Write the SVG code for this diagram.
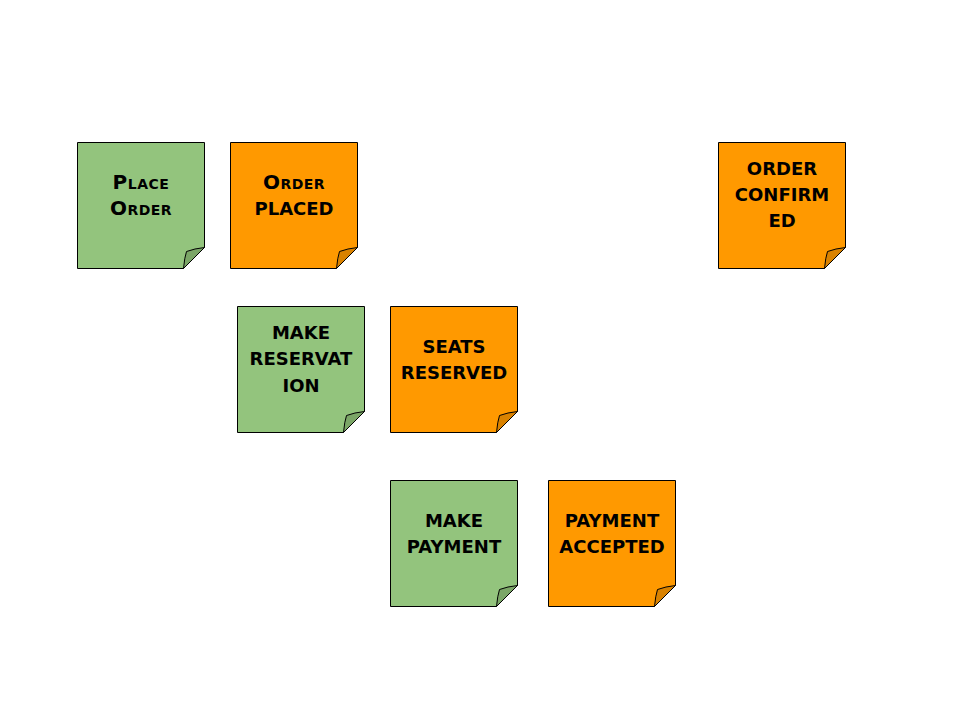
<svg xmlns="http://www.w3.org/2000/svg" width="960" height="720" viewBox="0 0 960 720">
<style>
.body,.flap{stroke:#000;stroke-width:1}
.g .body{fill:#93C47D}
.g .flap{fill:#7BA667}
.o .body{fill:#FF9900}
.o .flap{fill:#D98200}
text{font-family:"DejaVu Sans","Liberation Sans",sans-serif;font-weight:bold;font-size:18px;font-variant:small-caps;text-anchor:middle;fill:#000}
text.sc{font-size:20px;letter-spacing:0.5px}
</style>
<rect width="960" height="720" fill="#fff"/>
<g id="connectors"></g>
<g id="place-order" class="g" transform="translate(77.5,142.5)">
<path class="body" d="M0,0 H127 V105 L106,126 H0 Z"/>
<path class="flap" d="M127,105 L106,126 Q107,115 109,109 Q117,106 127,105 Z"/>
<text class="sc" x="63.5" y="46">Place</text>
<text class="sc" x="63.5" y="72.5">Order</text>
</g>
<g id="order-placed" class="o" transform="translate(230.5,142.5)">
<path class="body" d="M0,0 H127 V105 L106,126 H0 Z"/>
<path class="flap" d="M127,105 L106,126 Q107,115 109,109 Q117,106 127,105 Z"/>
<text class="sc" x="63.5" y="46">Order</text>
<text x="63.5" y="72.5">PLACED</text>
</g>
<g id="order-confirmed" class="o" transform="translate(718.5,142.5)">
<path class="body" d="M0,0 H127 V105 L106,126 H0 Z"/>
<path class="flap" d="M127,105 L106,126 Q107,115 109,109 Q117,106 127,105 Z"/>
<text x="63.5" y="32.5">ORDER</text>
<text x="63.5" y="58.5">CONFIRM</text>
<text x="63.5" y="84.5">ED</text>
</g>
<g id="make-reservation" class="g" transform="translate(237.5,306.5)">
<path class="body" d="M0,0 H127 V105 L106,126 H0 Z"/>
<path class="flap" d="M127,105 L106,126 Q107,115 109,109 Q117,106 127,105 Z"/>
<text x="63.5" y="32.5">MAKE</text>
<text x="63.5" y="58.5">RESERVAT</text>
<text x="63.5" y="85">ION</text>
</g>
<g id="seats-reserved" class="o" transform="translate(390.5,306.5)">
<path class="body" d="M0,0 H127 V105 L106,126 H0 Z"/>
<path class="flap" d="M127,105 L106,126 Q107,115 109,109 Q117,106 127,105 Z"/>
<text x="63.5" y="46">SEATS</text>
<text x="63.5" y="72.5">RESERVED</text>
</g>
<g id="make-payment" class="g" transform="translate(390.5,480.5)">
<path class="body" d="M0,0 H127 V105 L106,126 H0 Z"/>
<path class="flap" d="M127,105 L106,126 Q107,115 109,109 Q117,106 127,105 Z"/>
<text x="63.5" y="46.5">MAKE</text>
<text x="63.5" y="72.5">PAYMENT</text>
</g>
<g id="payment-accepted" class="o" transform="translate(548.5,480.5)">
<path class="body" d="M0,0 H127 V105 L106,126 H0 Z"/>
<path class="flap" d="M127,105 L106,126 Q107,115 109,109 Q117,106 127,105 Z"/>
<text x="63.5" y="46.5">PAYMENT</text>
<text x="63.5" y="72.5">ACCEPTED</text>
</g>
</svg>
